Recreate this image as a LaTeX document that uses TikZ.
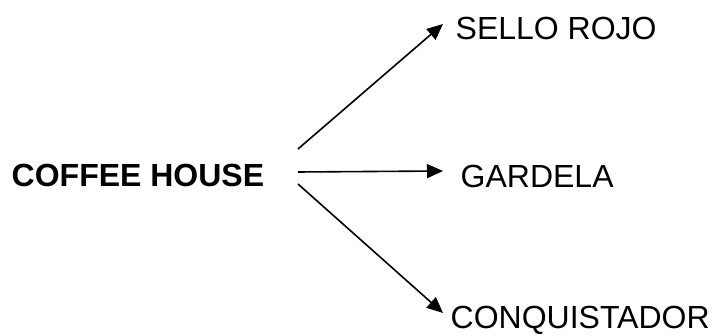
\documentclass[tikz,border=0pt]{standalone}
\usepackage{fontspec}
\setmainfont{Liberation Sans}
\usetikzlibrary{arrows.meta}
\begin{document}
\begin{tikzpicture}[x=1pt,y=-1pt,
  lbl/.style={anchor=base west,inner sep=0pt,font=\fontsize{32}{36}\selectfont},
  conn/.style={line width=1.6pt,-{Triangle[length=16pt,width=14pt]}}]
\useasboundingbox (0,0) rectangle (716,336);
\node[lbl,font=\fontsize{32}{36}\selectfont\bfseries] (coffee) at (11.5,187) {COFFEE HOUSE};
\node[lbl] (sello) at (455.5,40) {SELLO ROJO};
\node[lbl] (gardela) at (460.5,188) {GARDELA};
\node[lbl] (conq) at (450.5,328.5) {CONQUISTADOR};
\coordinate (a1) at (298,149);
\coordinate (a2) at (298,172);
\coordinate (a3) at (298,184);
\coordinate (t1) at (443,24);
\coordinate (t2) at (443,171);
\coordinate (t3) at (443,313);
\draw[conn] (a1) -- (t1);
\draw[conn] (a2) -- (t2);
\draw[conn] (a3) -- (t3);
\end{tikzpicture}
\end{document}
